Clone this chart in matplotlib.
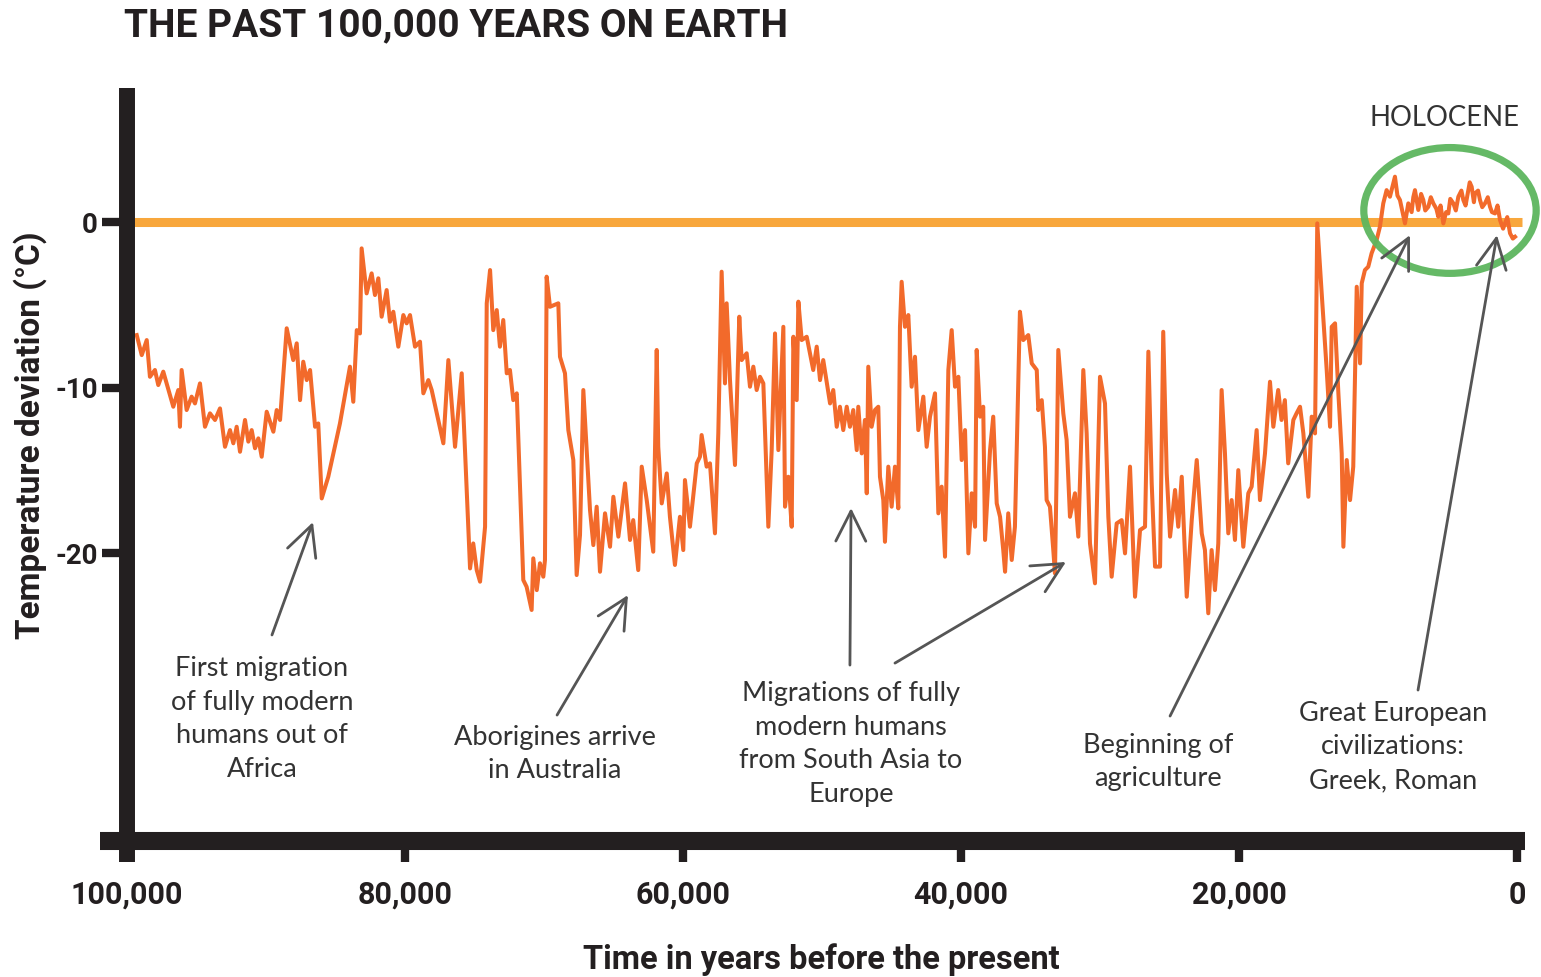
import numpy as np
import matplotlib
matplotlib.use("Agg")
import matplotlib.pyplot as plt
from matplotlib.patches import Ellipse
from matplotlib.lines import Line2D

plt.rcParams['font.family'] = ['Roboto', 'DejaVu Sans']

# temperature record (thousands of years before present, deg C)
kyr = [
    99.30, 98.94, 98.58, 98.35, 97.99, 97.75, 97.39, 96.67, 96.31, 96.19,
    96.07, 95.71, 95.35, 95.11, 94.75, 94.39, 94.03, 93.67, 93.31, 92.95,
    92.59, 92.35, 92.11, 91.87, 91.51, 91.27, 91.03, 90.79, 90.55, 90.31,
    89.95, 89.47, 89.23, 88.99, 88.51, 88.04, 87.79, 87.55, 87.32, 87.07,
    86.83, 86.47, 86.24, 85.99, 85.52, 84.68, 83.96, 83.72, 83.47, 83.24,
    83.12, 82.76, 82.40, 82.16, 81.92, 81.68, 81.32, 81.08, 80.84, 80.48,
    80.12, 79.88, 79.64, 79.28, 78.92, 78.68, 78.32, 78.08, 77.24, 76.88,
    76.40, 75.92, 75.32, 75.09, 74.84, 74.60, 74.24, 74.12, 73.88, 73.65,
    73.40, 73.17, 72.93, 72.68, 72.45, 72.21, 71.96, 71.49, 71.25, 70.89,
    70.77, 70.52, 70.29, 70.05, 69.93, 69.81, 69.57, 68.97, 68.85, 68.49,
    68.25, 67.89, 67.65, 67.41, 67.17, 66.69, 66.45, 66.21, 65.97, 65.61,
    65.25, 65.01, 64.65, 64.17, 63.81, 63.58, 63.22, 62.97, 62.61, 62.14,
    61.89, 61.78, 61.53, 61.17, 60.94, 60.58, 60.22, 59.98, 59.86, 59.50,
    59.01, 58.78, 58.66, 58.30, 58.06, 57.70, 57.46, 57.22, 56.98, 56.86,
    56.62, 56.26, 55.95, 55.78, 55.42, 55.18, 54.94, 54.70, 54.46, 54.22,
    53.86, 53.62, 53.38, 53.14, 52.78, 52.66, 52.42, 52.18, 52.06, 51.82,
    51.70, 51.46, 51.10, 50.63, 50.38, 50.14, 49.91, 49.42, 49.19, 48.94,
    48.71, 48.47, 48.22, 47.99, 47.75, 47.50, 47.39, 47.14, 46.91, 46.78,
    46.67, 46.43, 46.19, 45.95, 45.83, 45.59, 45.47, 45.23, 44.99, 44.75,
    44.51, 44.39, 44.27, 44.03, 43.79, 43.55, 43.31, 43.07, 42.71, 42.47,
    42.23, 41.87, 41.63, 41.39, 41.15, 40.91, 40.67, 40.43, 40.19, 39.95,
    39.71, 39.47, 39.23, 38.99, 38.87, 38.63, 38.40, 38.27, 37.91, 37.68,
    37.43, 37.19, 36.96, 36.83, 36.60, 36.35, 36.12, 35.76, 35.52, 35.16,
    34.91, 34.55, 34.44, 34.19, 33.96, 33.84, 33.60, 33.36, 33.24, 33.12,
    33.00, 32.64, 32.40, 32.16, 31.80, 31.56, 31.20, 30.96, 30.72, 30.36,
    30.00, 29.64, 29.40, 29.16, 28.80, 28.44, 28.20, 27.84, 27.48, 27.12,
    26.76, 26.52, 26.28, 26.04, 25.68, 25.45, 25.20, 24.96, 24.60, 24.37,
    24.12, 23.76, 23.40, 23.04, 22.68, 22.45, 22.21, 21.97, 21.73, 21.49,
    21.25, 21.01, 20.77, 20.53, 20.29, 20.05, 19.69, 19.33, 19.09, 18.73,
    18.49, 18.13, 17.77, 17.53, 17.18, 16.94, 16.70, 16.46, 16.09, 15.86,
    15.61, 15.37, 15.01, 14.77, 14.53, 14.37, 14.05, 13.69, 13.45, 13.33,
    13.09, 12.85, 12.61, 12.49, 12.25, 12.01, 11.78, 11.53, 11.29, 11.17,
    10.94, 10.70, 10.46, 10.10, 9.86, 9.62, 9.38, 9.14, 8.78, 8.60,
    8.42, 8.06, 7.82, 7.58, 7.46, 7.34, 7.10, 6.90, 6.74, 6.60,
    6.38, 6.20, 6.02, 5.80, 5.66, 5.50, 5.30, 5.10, 4.94, 4.80,
    4.58, 4.40, 4.22, 4.00, 3.86, 3.70, 3.50, 3.40, 3.26, 3.10,
    3.02, 2.80, 2.66, 2.50, 2.30, 2.10, 1.94, 1.80, 1.58, 1.40,
    1.22, 1.00, 0.86, 0.70, 0.50, 0.30, 0.14,
]
temp = [
    -6.83, -8.04, -7.13, -9.35, -8.94, -9.85, -9.04, -11.16, -10.15, -12.37,
    -8.94, -11.36, -10.55, -10.96, -9.75, -12.37, -11.56, -11.96, -11.26, -13.58,
    -12.57, -13.37, -12.37, -13.88, -11.96, -13.27, -12.57, -13.67, -13.07, -14.18,
    -11.46, -12.67, -11.36, -11.96, -6.42, -8.34, -7.33, -10.76, -8.44, -9.55,
    -8.94, -12.37, -12.17, -16.70, -15.39, -12.17, -8.74, -10.86, -6.53, -6.73,
    -1.59, -4.31, -3.10, -4.41, -3.40, -5.72, -4.11, -6.02, -5.42, -7.53,
    -5.62, -6.12, -5.62, -7.53, -7.23, -10.35, -9.55, -10.15, -13.37, -8.34,
    -13.58, -9.14, -20.93, -19.42, -21.03, -21.73, -18.41, -4.91, -2.90, -6.53,
    -5.32, -7.53, -5.92, -9.14, -8.94, -10.76, -10.35, -21.63, -22.04, -23.44,
    -20.32, -22.24, -20.62, -21.43, -20.42, -3.30, -5.12, -4.91, -8.14, -9.14,
    -12.57, -14.38, -21.33, -18.91, -10.15, -17.40, -19.52, -17.20, -21.13, -17.60,
    -19.62, -16.60, -19.01, -15.79, -19.21, -18.01, -21.03, -14.78, -16.80, -19.92,
    -7.73, -13.58, -17.00, -15.19, -17.81, -20.72, -17.81, -19.82, -15.59, -18.41,
    -14.58, -14.18, -12.87, -14.78, -14.58, -18.81, -12.77, -3.00, -9.75, -4.91,
    -9.55, -14.68, -5.72, -8.34, -7.93, -9.95, -8.74, -10.15, -9.35, -9.75,
    -18.41, -13.78, -6.73, -13.78, -6.33, -17.20, -15.39, -18.41, -6.93, -10.76,
    -4.81, -7.13, -6.93, -8.94, -7.53, -9.55, -8.34, -10.96, -10.15, -12.37,
    -11.16, -12.57, -11.16, -12.37, -11.36, -13.78, -11.16, -13.98, -11.96, -16.39,
    -8.74, -12.37, -11.36, -11.16, -15.39, -16.80, -19.32, -14.78, -17.20, -14.78,
    -17.30, -6.33, -3.61, -6.33, -5.62, -9.95, -8.14, -12.57, -10.55, -13.58,
    -11.76, -10.35, -17.60, -15.99, -20.22, -8.94, -6.53, -9.95, -9.35, -14.38,
    -12.57, -20.02, -16.39, -18.41, -7.73, -11.76, -11.16, -19.21, -13.78, -11.76,
    -17.00, -17.81, -19.82, -21.13, -17.60, -20.42, -18.41, -5.42, -7.13, -6.83,
    -8.54, -8.94, -11.36, -10.76, -13.58, -16.80, -17.20, -19.82, -21.23, -15.19,
    -7.73, -11.56, -13.17, -17.81, -16.39, -19.01, -8.94, -12.77, -19.42, -21.83,
    -9.35, -10.96, -17.81, -21.43, -18.21, -18.01, -20.02, -14.78, -22.64, -18.61,
    -18.41, -7.83, -15.79, -20.82, -20.82, -6.63, -15.19, -19.01, -16.19, -18.41,
    -15.39, -22.64, -18.01, -14.38, -18.81, -19.82, -23.64, -19.82, -22.24, -19.42,
    -10.15, -13.98, -18.81, -16.80, -19.21, -14.99, -19.62, -16.39, -15.99, -12.57,
    -16.80, -13.98, -9.65, -12.37, -10.15, -11.96, -10.76, -14.58, -11.96, -11.56,
    -11.16, -12.77, -16.60, -11.76, -12.77, -0.08, -4.31, -8.94, -12.37, -6.33,
    -6.12, -10.35, -13.98, -19.62, -14.38, -16.80, -14.78, -3.91, -8.54, -3.70,
    -2.90, -2.70, -1.89, -1.09, -0.28, 1.13, 1.93, 1.53, 2.74, 1.60,
    1.33, -0.08, 1.13, 0.60, 1.50, 1.93, 0.73, 1.70, 1.33, 0.70,
    0.92, 1.50, 1.13, 0.80, 0.32, 1.00, -0.08, 0.60, 0.52, 1.40,
    1.13, 0.70, 1.53, 1.90, 1.33, 1.00, 1.93, 2.40, 2.13, 1.20,
    1.73, 1.90, 1.33, 0.90, 1.13, 1.50, 0.92, 0.60, 0.52, 1.00,
    0.12, -0.40, -0.08, 0.30, -0.68, -1.00, -0.89,
]

years = np.array(kyr) * 1000
xticks = [100000, 80000, 60000, 40000, 20000, 0]
xtick_labels = ['100,000', '80,000', '60,000', '40,000', '20,000', '0']
yticks = [0, -10, -20]
ytick_labels = ['0', '-10', '-20']

notes = [
    ("First migration\nof fully modern\nhumans out of\nAfrica", 262, 719),
    ("Aborigines arrive\nin Australia", 555, 754),
    ("Migrations of fully\nmodern humans\nfrom South Asia to\nEurope", 851, 744),
    ("Beginning of\nagriculture", 1158, 762),
    ("Great European\ncivilizations:\nGreek, Roman", 1393, 747),
]
# arrows: (tail year, tail temp) -> (tip year, tip temp)
arrows = [
    ((89570, -24.95), (86620, -18.13)),
    ((69060, -29.79), (63960, -22.54)),
    ((47990, -26.77), (47910, -17.28)),
    ((44750, -26.65), (32450, -20.54)),
    ((24960, -29.85), (7700, -0.79)),
    ((7120, -28.28), (1440, -0.79)),
]

W, H = 1541, 977
INK = '#231F20'
fig = plt.figure(figsize=(W / 100, H / 100), dpi=100)
ax = fig.add_axes([127 / W, 1 - 841 / H, (1525 - 127) / W, (841 - 88) / H])
ax.set_xlim(100000, -576)
ax.set_ylim(-37.4, 8.1)

ax.plot([100000, -350], [0, 0], color='#F8A73C', lw=6.5, solid_capstyle='butt', zorder=2)
ax.plot(years, temp, color='#F26A2B', lw=2.9, solid_joinstyle='round', zorder=3)

ax.add_patch(Ellipse((4820, 0.7), 12400, 7.6, fill=False, edgecolor='#5DB65E',
                     lw=5.2, alpha=0.95, clip_on=False, zorder=4))

for sp in ax.spines.values():
    sp.set_visible(False)
ax.add_line(Line2D([0, 0], [-0.028, 1.0], transform=ax.transAxes, color=INK,
                   lw=11.5, solid_capstyle='butt', clip_on=False, zorder=6))
ax.add_line(Line2D([-0.0193, 1.0], [0, 0], transform=ax.transAxes, color=INK,
                   lw=13, solid_capstyle='butt', clip_on=False, zorder=6))

ax.set_xticks(xticks)
ax.set_xticklabels(xtick_labels)
ax.set_yticks(yticks)
ax.set_yticklabels(ytick_labels)
ax.tick_params(axis='x', length=15, width=6, color=INK, pad=13, labelsize=22,
               labelcolor=INK)
ax.tick_params(axis='y', length=18, width=6, color=INK, pad=3, labelsize=20,
               labelcolor=INK)
for lab in ax.get_xticklabels() + ax.get_yticklabels():
    lab.set_fontweight('bold')

for (x0, y0), (x1, y1) in arrows:
    ax.annotate('', xy=(x1, y1), xytext=(x0, y0),
                arrowprops=dict(arrowstyle='->,head_length=0.9,head_width=0.45',
                                color='#555555', lw=2.0, mutation_scale=24,
                                shrinkA=0, shrinkB=0),
                annotation_clip=False, zorder=7)

for txt, px, py in notes:
    fig.text(px / W, 1 - py / H, txt, ha='center', va='center', fontsize=19.5,
             family=['Lato', 'DejaVu Sans'], color='#333333', linespacing=1.42)

fig.text(1444 / W, 1 - 118 / H, 'HOLOCENE', ha='center', va='center', fontsize=19.8,
         family=['Lato', 'DejaVu Sans'], color='#333333')

fig.text(124 / W, 1 - 26 / H, 'THE PAST 100,000 YEARS ON EARTH', ha='left',
         va='center', fontsize=28, fontweight='bold', color=INK)
fig.text(30 / W, 1 - 435 / H, 'Temperature deviation (°C)', rotation=90,
         ha='center', va='center', fontsize=24, fontweight='bold', color=INK)
fig.text(821 / W, 1 - 960 / H, 'Time in years before the present', ha='center',
         va='center', fontsize=23.5, fontweight='bold', color=INK)

fig.savefig('out.png', dpi=100, facecolor='white')
